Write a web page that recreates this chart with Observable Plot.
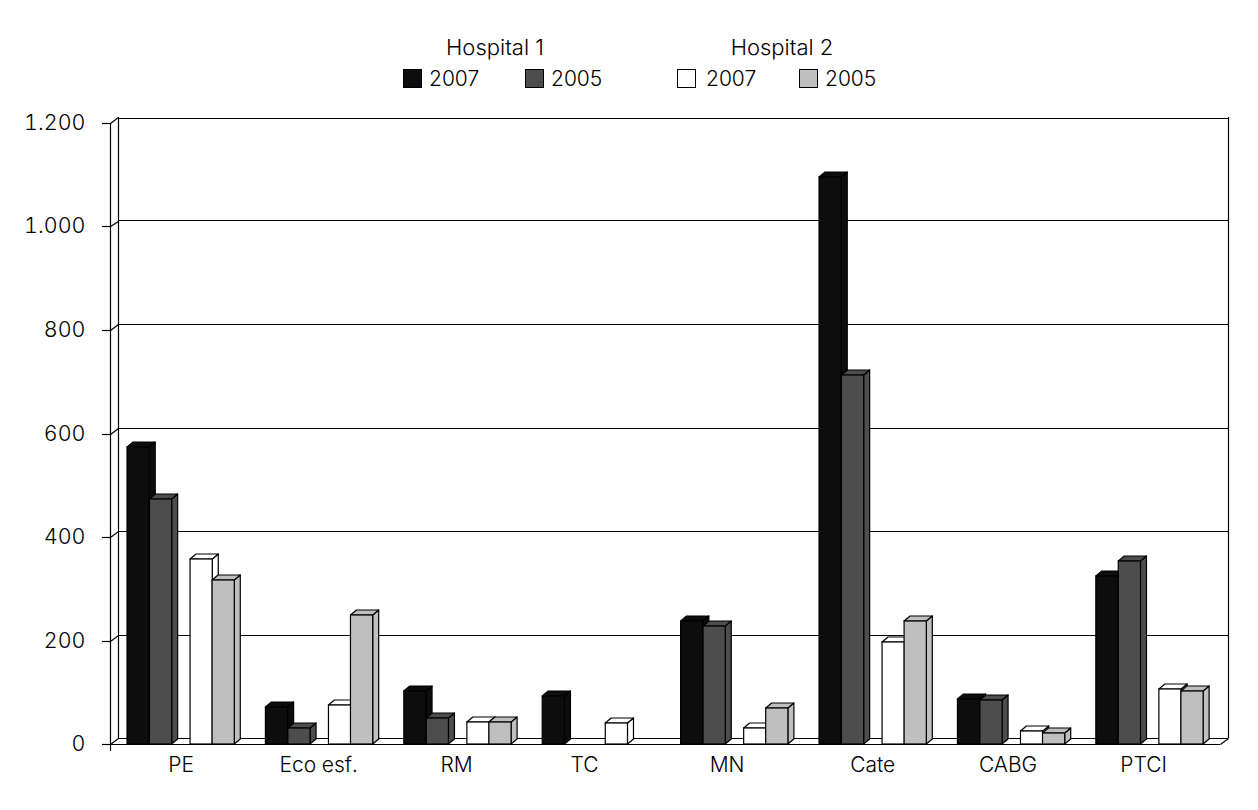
<!DOCTYPE html>
<html>
<head>
<meta charset="utf-8">
<script src="https://cdn.jsdelivr.net/npm/d3@7"></script>
<script src="https://cdn.jsdelivr.net/npm/@observablehq/plot@0.6"></script>
<style>
  html, body { margin: 0; padding: 0; background: #fff; overflow: hidden; }
  body { font-family: Inter, "Liberation Sans", sans-serif; font-weight: 300; color: #000; }
  #head { position: relative; width: 1258px; height: 100px; font-size: 21px; line-height: 24px; }
  #head span, #head i { position: absolute; white-space: nowrap; }
  #head i { width: 17px; height: 17px; border: 1.2px solid #000; }
  #chart svg { display: block; }
</style>
</head>
<body>
<div id="head"></div>
<div id="chart"></div>
<script>
// ---- data ----
const categories = ["PE", "Eco esf.", "RM", "TC", "MN", "Cate", "CABG", "PTCI"];
const hospital1_2007 = [573, 72, 103, 93, 238, 1096, 86, 325];
const hospital1_2005 = [474, 31, 50, 0, 228, 714, 85, 353];
const hospital2_2007 = [358, 76, 42, 40, 31, 197, 25, 107];
const hospital2_2005 = [317, 250, 42, 0, 69, 238, 21, 103];
const seriesNames = ["H1 2007", "H1 2005", "H2 2007", "H2 2005"];
const seriesValues = [hospital1_2007, hospital1_2005, hospital2_2007, hospital2_2005];
const seriesYears = ["2007", "2005", "2007", "2005"];
const hospitals = ["Hospital 1", "Hospital 2"];
const yTicks = [0, 200, 400, 600, 800, 1000, 1200];

// ---- styling and layout ----
const seriesColors = ["#0d0d0d", "#4d4d4d", "#ffffff", "#bfbfbf"];
const barStart = [0.1229, 0.2849, 0.5784, 0.7375]; // share of a category's width
const barWidth = 0.1605;
const labelShift = [0.01, 0.003, 0, -0.075, -0.045, 0.007, -0.015, -0.035]; // share of a category's width
const xEnd = 8.02;
const lineW = 1.2;
const wallDX = 8, wallDY = -6;   // px depth of the chart box
const barDX = 6, barDY = -5;     // px depth of one bar

const rows = [];
categories.forEach((c, i) => seriesNames.forEach((s, j) => {
  const v = seriesValues[j][i];
  if (v > 0) rows.push({category: c, series: s, value: v, x1: i + barStart[j], x2: i + barStart[j] + barWidth});
}));

const thousands = d3.formatLocale({decimal: ",", thousands: ".", grouping: [3], currency: ["", ""]}).format(",");

// draws the side and top faces behind each bar's front rect, from the scaled values
function box3d(index, scales, values, dimensions, context, next) {
  const g = next(index, scales, values, dimensions, context);
  const fronts = g.querySelectorAll("rect");
  const ns = "http://www.w3.org/2000/svg";
  Array.from(index).forEach((i, k) => {
    const xa = Math.min(values.x1[i], values.x2[i]), xb = Math.max(values.x1[i], values.x2[i]);
    const yt = Math.min(values.y1[i], values.y2[i]), yb = Math.max(values.y1[i], values.y2[i]);
    const fill = values.fill[i];
    const faces = [
      [[xb, yt], [xb + barDX, yt + barDY], [xb + barDX, yb + barDY], [xb, yb]],
      [[xa, yt], [xa + barDX, yt + barDY], [xb + barDX, yt + barDY], [xb, yt]]
    ];
    for (const f of faces) {
      const p = document.createElementNS(ns, "polygon");
      p.setAttribute("points", f.map(q => q.join(",")).join(" "));
      p.setAttribute("fill", fill);
      p.setAttribute("stroke", "#000");
      p.setAttribute("stroke-width", lineW);
      p.setAttribute("stroke-linejoin", "round");
      g.insertBefore(p, fronts[k]);
    }
  });
  return g;
}

const depthX = wallDX / 138.3;
const depthY = -wallDY / (621 / 1200);
const labelAt = new Map(categories.map((c, i) => [i + 0.5 + labelShift[i], c]));

const chart = Plot.plot({
  width: 1258,
  height: 710,
  marginTop: 23,
  marginBottom: 66,
  marginLeft: 110,
  marginRight: 38,
  style: {fontFamily: 'Inter, "Liberation Sans", sans-serif', fontWeight: 300, color: "#000", background: "#fff", overflow: "visible"},
  x: {domain: [0, xEnd], axis: null},
  y: {domain: [0, 1200], round: true, axis: null},
  color: {domain: seriesNames, range: seriesColors},
  marks: [
    // back wall and floor
    Plot.ruleY(yTicks.filter(v => v < 1200), {x1: 0, x2: xEnd, dx: wallDX, dy: wallDY, stroke: "#000", strokeWidth: lineW}),
    Plot.ruleY([1200], {x1: 0, x2: xEnd, dx: wallDX, dy: wallDY + 1, stroke: "#000", strokeWidth: lineW}),
    Plot.ruleX([0, xEnd], {y1: 0, y2: 1200, dx: wallDX, dy: wallDY, stroke: "#000", strokeWidth: lineW}),
    Plot.link(yTicks, {x1: 0, x2: depthX, y1: d => d, y2: d => d + depthY, stroke: "#000", strokeWidth: lineW}),
    Plot.link([0], {x1: xEnd, x2: xEnd + depthX, y1: d => d, y2: d => d + depthY, stroke: "#000", strokeWidth: lineW}),
    // front floor edge and the axes
    Plot.ruleY([0], {x1: 0, x2: xEnd, stroke: "#000", strokeWidth: lineW}),
    Plot.ruleX([0], {y1: -13.5, y2: 1200, stroke: "#000", strokeWidth: lineW}),
    Plot.axisY({ticks: yTicks, tickFormat: thousands, tickSize: 8, tickPadding: 17, fontSize: 21.5, label: null, stroke: "#000", strokeWidth: lineW}),
    Plot.axisX({ticks: [...labelAt.keys()], tickFormat: d => labelAt.get(d), tickSize: 0, tickPadding: 13, fontSize: 21, label: null}),
    // bars
    Plot.rect(rows, {x1: "x1", x2: "x2", y1: 0, y2: "value", fill: "series", stroke: "#000", strokeWidth: lineW, render: box3d})
  ]
});
document.getElementById("chart").appendChild(chart);

// ---- legend above the SVG ----
const head = document.getElementById("head");
const add = (tag, text, css) => {
  const e = document.createElement(tag);
  if (text) e.textContent = text;
  e.style.cssText = css;
  head.appendChild(e);
  return e;
};
const hospitalCenter = [495, 782];
hospitals.forEach((h, i) => add("span", h, `left:${hospitalCenter[i]}px;top:35px;font-size:22px;transform:translateX(-50%)`));
const swatchX = [403, 525, 677, 799];
const labelX = [429, 551, 706, 825];
seriesYears.forEach((y, i) => {
  add("i", "", `left:${swatchX[i]}px;top:69px;background:${seriesColors[i]}`);
  add("span", y, `left:${labelX[i]}px;top:67px`);
});
</script>
</body>
</html>
